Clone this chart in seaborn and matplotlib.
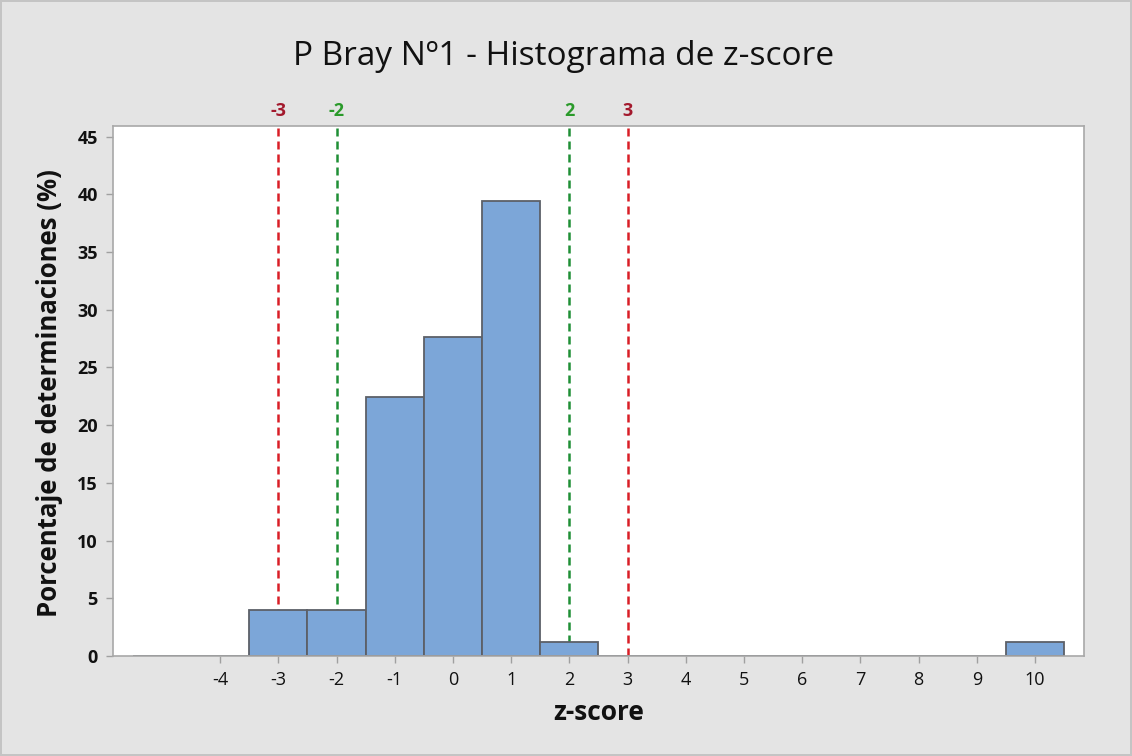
import numpy as np
import pandas as pd
import matplotlib
matplotlib.use('Agg')
import matplotlib.pyplot as plt
import matplotlib.transforms as mtransforms
import seaborn as sns

# ── Data ──────────────────────────────────────────────────────
z_centers = [-3, -2, -1, 0, 1, 2, 10]
pct_values = [3.95, 3.95, 22.4, 27.6, 39.4, 1.2, 1.2]
x_ticks = [-4, -3, -2, -1, 0, 1, 2, 3, 4, 5, 6, 7, 8, 9, 10]
y_ticks = [0, 5, 10, 15, 20, 25, 30, 35, 40, 45]
limit_warn = [-2, 2]
limit_act = [-3, 3]

df = pd.DataFrame({"z": z_centers, "pct": pct_values})

# ── Style ─────────────────────────────────────────────────────
sns.set_theme(style="white")
plt.rcParams['font.family'] = ['Open Sans', 'DejaVu Sans']

BG = "#e4e4e4"
BAR = "#7ca6d8"
EDGE = "#5c6068"
RED = "#d91e26"
RED_TXT = "#a3192d"
GREEN = "#1f8f35"
GREEN_TXT = "#2a9a2a"

fig = plt.figure(figsize=(11.32, 7.56), dpi=100)
fig.patch.set_facecolor(BG)
fig.patch.set_edgecolor("#c4c4c4")
fig.patch.set_linewidth(1.5)

ax = fig.add_axes([0.0998, 0.1323, 0.8578, 0.7014])
ax.set_facecolor("white")

sns.histplot(data=df, x="z", weights="pct", binwidth=1, binrange=(-5.5, 10.5),
             stat="count", color=BAR, edgecolor=EDGE, linewidth=1.3,
             alpha=1, ax=ax, zorder=2)

# reference lines (behind the bars, as in the original)
dash = (0, (3.2, 2.0))
for v in limit_act:
    ax.axvline(v, color=RED, linestyle=dash, linewidth=1.8, zorder=1)
for v in limit_warn:
    ax.axvline(v, color=GREEN, linestyle=dash, linewidth=1.8, zorder=1)

trans = mtransforms.blended_transform_factory(ax.transData, ax.transAxes)
for v in limit_act:
    ax.text(v, 1.01, f"{v}", transform=trans, ha="center", va="bottom",
            color=RED_TXT, fontsize=13, fontweight="bold")
for v in limit_warn:
    ax.text(v, 1.01, f"{v}", transform=trans, ha="center", va="bottom",
            color=GREEN_TXT, fontsize=13, fontweight="bold")

ax.set_xlim(-5.84, 10.84)
ax.set_ylim(0, 45.95)
ax.set_xticks(x_ticks)
ax.set_yticks(y_ticks)
ax.set_xticklabels([str(t) for t in x_ticks], fontsize=13)
ax.set_yticklabels([str(t) for t in y_ticks], fontsize=13, fontweight="bold")
ax.tick_params(axis="both", direction="out", length=5, width=1,
               color="#a0a0a0", pad=6, labelcolor="#111111")
ax.tick_params(axis="x", bottom=True)
ax.tick_params(axis="y", left=True)

for side in ["top", "right", "left", "bottom"]:
    ax.spines[side].set_visible(True)
    ax.spines[side].set_color("#a8a8a8")
    ax.spines[side].set_linewidth(1.2)

ax.set_xlabel("")
ax.set_ylabel("")

fig.text(0.498, 0.925, "P Bray Nº1 - Histograma de z-score", ha="center",
         va="center", fontsize=24, color="#111111")
fig.text(0.5285, 0.058, "z-score", ha="center", va="center",
         fontsize=19, fontweight="bold", color="#111111")
fig.text(0.044, 0.48, "Porcentaje de determinaciones (%)", ha="center",
         va="center", rotation=90, fontsize=18.5, fontweight="bold",
         color="#111111")

fig.savefig("out.png", dpi=100, facecolor=fig.get_facecolor(),
            edgecolor=fig.get_edgecolor())
